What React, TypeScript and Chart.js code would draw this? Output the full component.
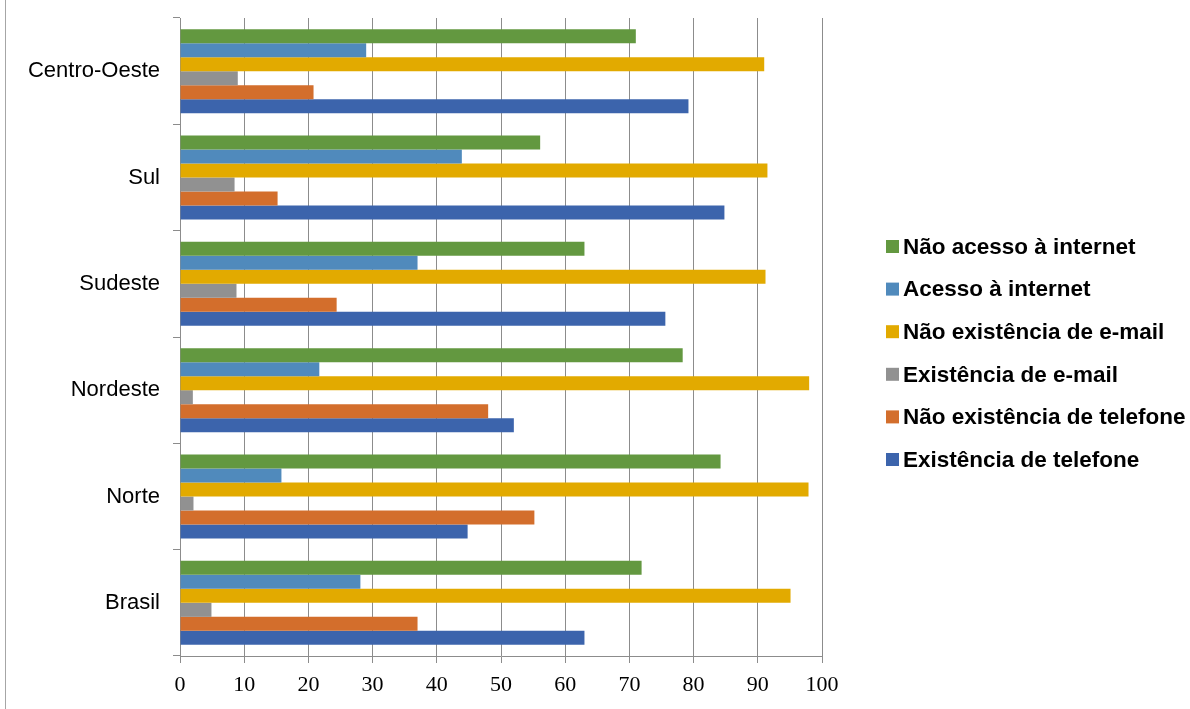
import React, { useEffect, useRef } from 'react';
import { Chart, registerables } from 'chart.js';

Chart.register(...registerables);

// Categories (top to bottom)
const categories = ['Centro-Oeste', 'Sul', 'Sudeste', 'Nordeste', 'Norte', 'Brasil'];

// Series values (%)
const naoAcessoInternet = [71.0, 56.1, 63.0, 78.3, 84.2, 71.9];
const acessoInternet = [29.0, 43.9, 37.0, 21.7, 15.8, 28.1];
const naoExistenciaEmail = [91.0, 91.5, 91.2, 98.0, 97.9, 95.1];
const existenciaEmail = [9.0, 8.5, 8.8, 2.0, 2.1, 4.9];
const naoExistenciaTelefone = [20.8, 15.2, 24.4, 48.0, 55.2, 37.0];
const existenciaTelefone = [79.2, 84.8, 75.6, 52.0, 44.8, 63.0];

const seriesLabels = [
  'Não acesso à internet',
  'Acesso à internet',
  'Não existência de e-mail',
  'Existência de e-mail',
  'Não existência de telefone',
  'Existência de telefone',
];
const seriesColors = ['#639840', '#508abc', '#e2aa00', '#919191', '#d36e2c', '#3c64ac'];

const xMin = 0;
const xMax = 100;
const xStep = 10;

const GRID = '#8c8c8c';

const sideLegend = {
  id: 'sideLegend',
  afterDraw(chart: any) {
    const { ctx, chartArea } = chart;
    const x0 = chartArea.right + 64;
    ctx.save();
    ctx.font = 'bold 22.5px "Liberation Sans", Arial, sans-serif';
    ctx.textBaseline = 'middle';
    ctx.textAlign = 'left';
    chart.data.datasets.forEach((ds: any, i: number) => {
      const y = 246.5 + i * 42.6;
      ctx.fillStyle = ds.backgroundColor;
      ctx.fillRect(x0, y - 6.5, 13, 13);
      ctx.fillStyle = '#000';
      ctx.fillText(ds.label, x0 + 17, y + 1);
    });
    ctx.restore();
  },
};

export default function App() {
  const ref = useRef<HTMLCanvasElement | null>(null);

  useEffect(() => {
    if (!ref.current) return;
    const seriesData = [
      naoAcessoInternet,
      acessoInternet,
      naoExistenciaEmail,
      existenciaEmail,
      naoExistenciaTelefone,
      existenciaTelefone,
    ];
    const chart = new Chart(ref.current, {
      type: 'bar',
      data: {
        labels: categories,
        datasets: seriesData.map((d, i) => ({
          label: seriesLabels[i],
          data: d,
          backgroundColor: seriesColors[i],
          borderWidth: 0,
          categoryPercentage: 0.79,
          barPercentage: 1.0,
        })),
      },
      options: {
        indexAxis: 'y',
        responsive: false,
        animation: false,
        layout: { padding: { top: 18, right: 368, bottom: 0, left: 0 } },
        plugins: {
          legend: { display: false },
          tooltip: { enabled: false },
        },
        scales: {
          x: {
            min: xMin,
            max: xMax,
            afterFit: (s: any) => {
              s.height = 53;
            },
            ticks: {
              stepSize: xStep,
              autoSkip: false,
              maxRotation: 0,
              padding: 9,
              color: '#000',
              font: { family: '"Liberation Serif", "Times New Roman", serif', size: 22 },
            },
            grid: { color: GRID, lineWidth: 1, tickLength: 7, drawTicks: true },
            border: { color: GRID, width: 1 },
          },
          y: {
            afterFit: (s: any) => {
              s.width = 180;
              s.paddingTop = 0;
              s.paddingBottom = 0;
            },
            ticks: {
              padding: 13,
              color: '#000',
              font: { family: '"Liberation Sans", Arial, sans-serif', size: 22 },
            },
            grid: {
              drawOnChartArea: false,
              drawTicks: true,
              tickLength: 7,
              color: GRID,
              offset: true,
            },
            border: { color: GRID, width: 1 },
          },
        },
      },
      plugins: [sideLegend],
    });
    return () => chart.destroy();
  }, []);

  return (
    <div style={{ position: 'absolute', left: 0, top: 0, width: 1190, height: 709, background: '#fff' }}>
      <div style={{ position: 'absolute', left: 5, top: 0, width: 1, height: 709, background: '#a6a6a6' }} />
      <canvas ref={ref} width={1190} height={709} style={{ position: 'absolute', left: 0, top: 0 }} />
    </div>
  );
}
